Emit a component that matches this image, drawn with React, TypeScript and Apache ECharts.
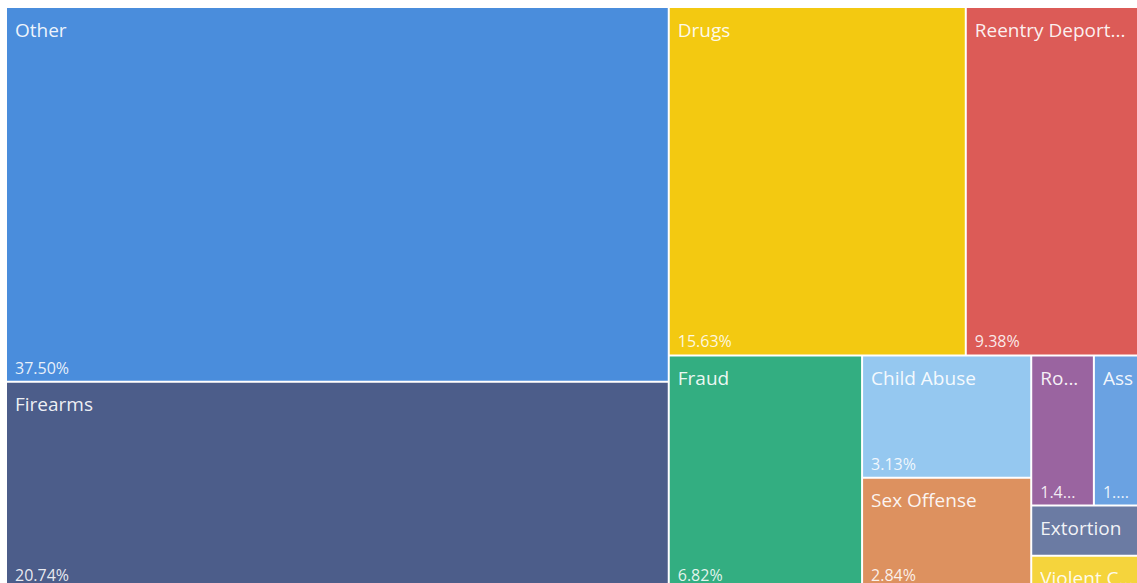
import React, { useEffect, useRef } from "react";
import * as echarts from "echarts";

// Offence categories (largest first) and case counts
const categories = [
  "Other",
  "Firearms",
  "Drugs",
  "Reentry Deportation",
  "Fraud",
  "Child Abuse",
  "Sex Offense",
  "Robbery",
  "Assault",
  "Extortion",
  "Violent Crime",
];
const caseCounts = [132, 73, 55, 33, 24, 11, 10, 5, 4, 3, 2];
const palette = [
  "#4A8DDC",
  "#4C5D8A",
  "#F3C911",
  "#DC5B57",
  "#33AE81",
  "#95C8F0",
  "#DD915F",
  "#9A64A0",
  "#6AA2E2",
  "#6B7BA3",
  "#F5D43C",
];

const total = caseCounts.reduce((a, b) => a + b, 0);

export default function App() {
  const ref = useRef<HTMLDivElement>(null);

  useEffect(() => {
    document.body.style.margin = "0";
    document.body.style.overflow = "hidden";
    if (!ref.current) return;
    const chart = echarts.init(ref.current, null, { renderer: "svg" });

    const box = { left: 7, top: 8, width: 1136, height: 580 };
    const common = {
      type: "treemap",
      ...box,
      roam: false,
      nodeClick: false,
      sort: "desc",
      squareRatio: 1.75,
      breadcrumb: { show: false },
      emphasis: { disabled: true },
    };

    const nameData = categories.map((c, i) => ({
      name: c,
      value: caseCounts[i],
      itemStyle: { color: palette[i] },
    }));
    // percentage labels are only shown on tiles big enough to hold them (share >= 1%)
    const pctData = categories.map((c, i) => ({
      name: c,
      value: caseCounts[i],
      itemStyle: { color: "rgba(0,0,0,0)" },
      label: { show: caseCounts[i] / total >= 0.01 },
    }));

    chart.setOption({
      animation: false,
      series: [
        {
          ...common,
          levels: [
            { itemStyle: { gapWidth: 2, borderWidth: 0, borderColor: "#ffffff" } },
          ],
          label: {
            show: true,
            position: "insideTopLeft",
            padding: [12, 8, 0, 8],
            fontSize: 19,
            fontFamily: "'Open Sans', sans-serif",
            color: "rgba(255,255,255,0.92)",
            formatter: "{b}",
            overflow: "truncate",
            ellipsis: "...",
          },
          data: nameData,
        },
        {
          ...common,
          silent: true,
          levels: [
            {
              itemStyle: {
                gapWidth: 2,
                borderWidth: 0,
                borderColor: "rgba(0,0,0,0)",
                color: "rgba(0,0,0,0)",
              },
            },
          ],
          label: {
            show: true,
            position: "insideBottomLeft",
            padding: [0, 8, 5, 8],
            fontSize: 16,
            fontFamily: "'Open Sans', sans-serif",
            color: "rgba(255,255,255,0.88)",
            formatter: (p: any) => ((p.value / total) * 100).toFixed(2) + "%",
            overflow: "truncate",
            ellipsis: "...",
          },
          data: pctData,
        },
      ],
    });

    return () => chart.dispose();
  }, []);

  return <div ref={ref} style={{ width: 1137, height: 583 }} />;
}
